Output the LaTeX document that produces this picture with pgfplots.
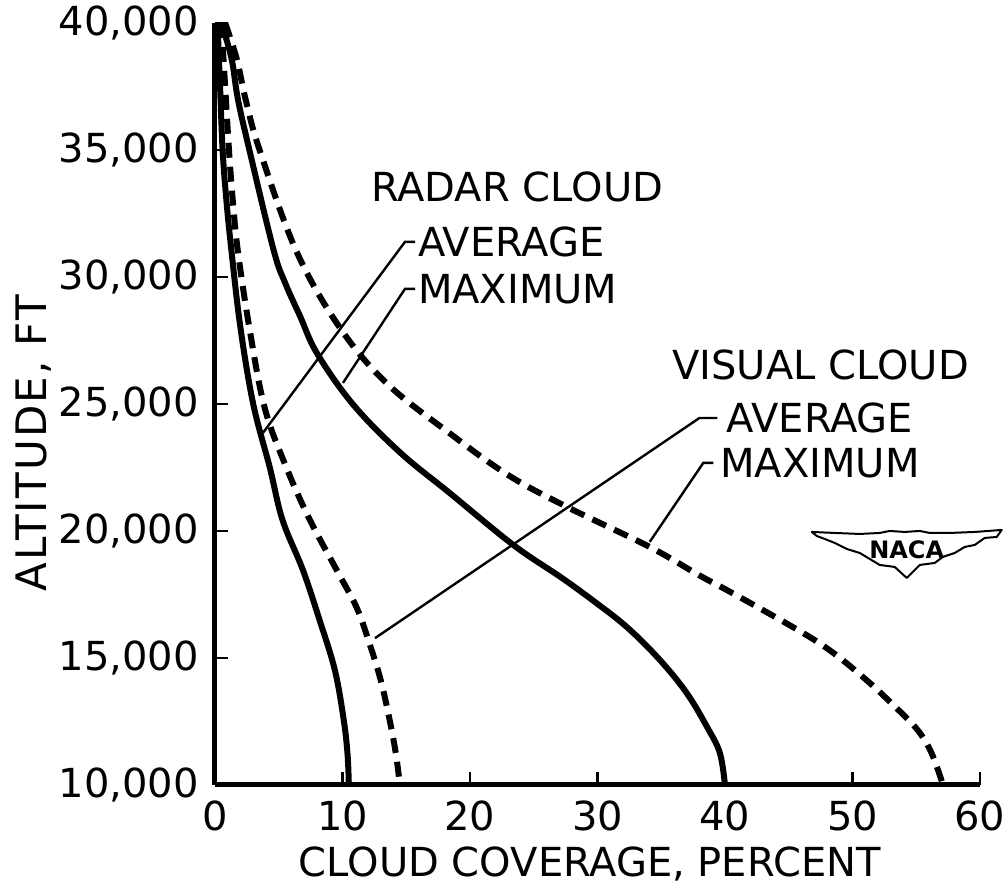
\documentclass[border=0pt]{standalone}
\usepackage{pgfplots}
\pgfplotsset{compat=1.18}
\usepackage{fontspec}
\setmainfont{DejaVu Sans}
\newfontfamily\spaced[LetterSpace=5]{DejaVu Sans}
\tikzset{
  solidc/.style={line width=3pt, smooth, tension=0.6},
  dashc/.style={line width=3pt, smooth, tension=0.6, dash pattern=on 7.5pt off 4.5pt},
  lead/.style={line width=1.2pt},
  lab/.style={anchor=west, inner sep=0pt, font=\fontsize{20}{24}\selectfont},
}
\begin{document}
\fontsize{20}{24}\selectfont
\begin{tikzpicture}
\begin{axis}[
  scale only axis,
  width=382.5pt, height=381pt,
  xmin=0, xmax=60, ymin=10000, ymax=40000,
  axis x line=bottom, axis y line=left,
  axis line style={line width=2.5pt, -},
  tick align=inside,
  major tick length=6.5pt,
  tick style={line width=1.2pt, black},
  scaled y ticks=false,
  xtick={0,10,20,30,40,50,60},
  xticklabels={0,10,20,30,40,50,60},
  ytick={10000,15000,20000,25000,30000,35000,40000},
  yticklabels={{10,000},{15,000},{20,000},{25,000},{30,000},{35,000},{40,000}},
  tick label style={font=\fontsize{20}{24}\selectfont, inner sep=0pt},
  xticklabel style={yshift=-7.5pt},
  yticklabel style={xshift=-8pt},
  clip=false,
]
% radar cloud, average
\addplot[solidc] coordinates {
  (0.2,40000) (0.4,37500) (0.6,35000) (0.9,33000) (1.3,31000) (2.0,28000)
  (3.0,25000) (4.3,22500) (5.3,20430) (6.9,18460) (8.2,16500) (9.4,14530)
  (10.1,12560) (10.4,11200) (10.5,10000)
};
% radar cloud, maximum
\addplot[dashc] coordinates {
  (0.5,40000) (0.8,37500) (1.1,35000) (1.4,33000) (1.8,31000) (2.7,28000)
  (3.9,24850) (5.6,22500) (7.45,20430) (9.55,18460) (11.1,17000)
  (12.1,15600) (13.0,14130) (13.7,12560) (14.2,11200) (14.5,10000)
};
% visual cloud, average
\addplot[solidc] coordinates {
  (0.5,40000) (1.3,38600) (1.8,37000) (2.7,35000) (4.6,31060) (5.5,29770)
  (6.7,28430) (8.0,27000) (10.8,25000) (14.5,23100) (18.4,21500)
  (23.4,19450) (27.1,18190) (29.6,17280) (32.3,16220) (34.9,14920)
  (37.0,13620) (38.6,12280) (39.6,11260) (40.0,10000)
};
% visual cloud, maximum
\addplot[dashc] coordinates {
  (0.8,40000) (1.7,38600) (2.4,37000) (3.5,35000) (6.4,31000) (9.8,28000)
  (13.5,25800) (18.4,23850) (23.0,22200) (27.6,20950) (34.1,19370)
  (38.0,18250) (40.6,17550) (45.9,16050) (48.5,15200) (51.1,14130)
  (53.2,13150) (55.1,12170) (56.2,11260) (57.1,10000)
};
% labels and leaders
\node[inner sep=0pt] at (axis cs:23.7,33550) {RADAR CLOUD};
\node[lab] at (axis cs:15.9,31380) {AVERAGE};
\draw[lead] (axis cs:3.76,23860) -- (axis cs:14.9,31380) -- (axis cs:15.7,31380);
\node[lab] at (axis cs:15.9,29530) {MAXIMUM};
\draw[lead] (axis cs:10.04,25830) -- (axis cs:14.9,29530) -- (axis cs:15.7,29530);
\node[inner sep=0pt] at (axis cs:47.5,26535) {VISUAL CLOUD};
\node[lab] at (axis cs:40.1,24450) {AVERAGE};
\draw[lead] (axis cs:12.55,15780) -- (axis cs:38.0,24450) -- (axis cs:39.4,24450);
\node[lab] at (axis cs:39.6,22680) {MAXIMUM};
\draw[lead] (axis cs:34.1,19570) -- (axis cs:38.3,22680) -- (axis cs:39.1,22680);
% axis titles
\node[rotate=90, inner sep=0pt, font=\spaced\fontsize{21}{24}\selectfont] at (axis cs:-14.2,23460) {ALTITUDE, FT};
\node[inner sep=0pt] at (axis cs:29.4,6900) {CLOUD COVERAGE, PERCENT};
\coordinate (logo) at (axis cs:54.1,19450);
% page extent
\path (axis cs:-16.86,40905) rectangle (axis cs:62.2,6142);
\end{axis}
% NACA wings
\begin{scope}[shift={(logo)}, x=0.5pt, y=-0.5pt]
  \draw[line width=1pt, line join=round, fill=white]
    (-93,-13) -- (-70,-12) -- (-45,-11) -- (-25,-12) -- (-15,-14) -- (0,-13)
    -- (15,-14) -- (25,-12) -- (45,-12) -- (70,-13) -- (97,-15)
    -- (92,-8) -- (80,-7) -- (70,0) -- (60,2) -- (50,8) -- (38,12) -- (30,18)
    -- (15,20) -- (2,33) -- (-10,22) -- (-25,20) -- (-35,14) -- (-45,8)
    -- (-58,4) -- (-70,-2) -- (-80,-6) -- (-88,-9) -- cycle;
  \node[font=\bfseries\fontsize{12}{14}\selectfont, inner sep=0pt] at (2,5) {NACA};
\end{scope}
\end{tikzpicture}
\end{document}
